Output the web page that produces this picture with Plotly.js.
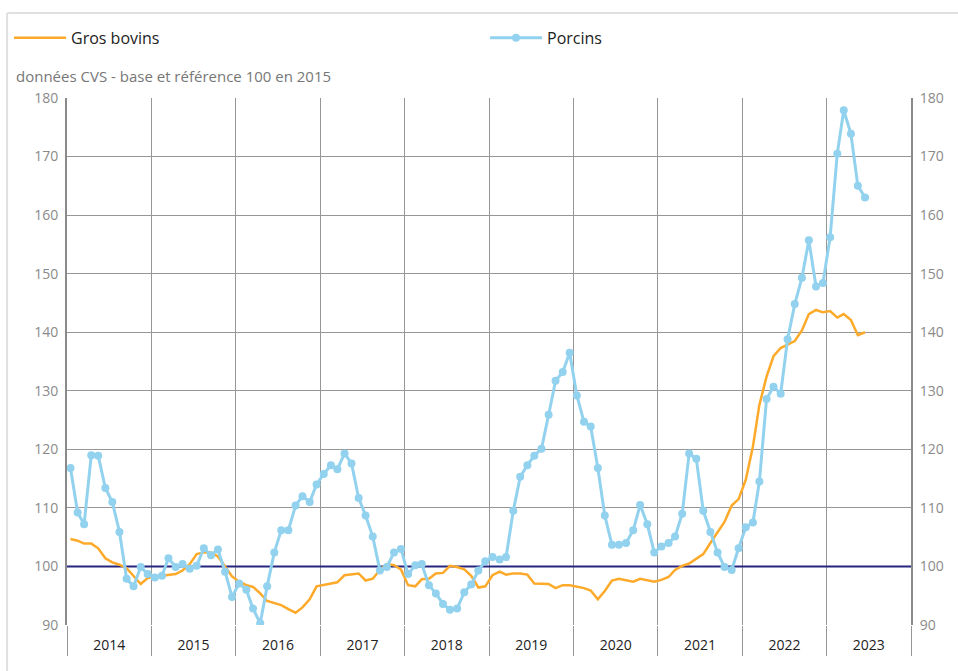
<!DOCTYPE html>
<html>
<head>
<meta charset="utf-8">
<script src="https://cdn.plot.ly/plotly-3.0.1.min.js"></script>
<style>html,body{margin:0;padding:0;background:#fff;}#chart{width:958px;height:671px;}</style>
</head>
<body>
<div id="chart"></div>
<script>
// Monthly series, January 2014 to June 2023
const startYear = 2014;
const grosBovins = [
  104.7, 104.4, 103.9, 103.9, 103.1, 101.4, 100.7, 100.3, 99.7, 98.3, 97.0, 98.0,
  98.3, 98.4, 98.6, 98.7, 99.3, 100.4, 102.1, 102.4, 102.4, 101.7, 100.0, 98.3,
  97.4, 96.8, 96.5, 95.4, 94.1, 93.8, 93.4, 92.7, 92.1, 93.0, 94.4, 96.6,
  96.8, 97.0, 97.3, 98.5, 98.6, 98.8, 97.6, 97.9, 99.4, 100.4, 100.2, 99.5,
  96.8, 96.6, 97.8, 97.9, 98.8, 98.9, 100.1, 99.9, 99.5, 98.4, 96.4, 96.6,
  98.5, 99.1, 98.6, 98.8, 98.8, 98.6, 97.1, 97.1, 97.0, 96.3, 96.8, 96.8,
  96.6, 96.3, 95.9, 94.4, 95.8, 97.6, 97.9, 97.7, 97.4, 97.9, 97.7, 97.4,
  97.7, 98.2, 99.4, 100.1, 100.5, 101.3, 102.1, 104.0, 105.9, 107.6, 110.4, 111.5,
  114.8, 120.5, 127.6, 132.4, 135.9, 137.3, 137.9, 138.5, 140.3, 143.1, 143.8, 143.4,
  143.6, 142.5, 143.1, 142.1, 139.5, 140.0
];
const porcins = [
  116.8, 109.2, 107.2, 119.0, 118.9, 113.4, 111.0, 105.9, 97.9, 96.6, 99.9, 98.7,
  98.1, 98.4, 101.4, 99.9, 100.4, 99.6, 100.1, 103.1, 101.9, 102.9, 99.1, 94.8,
  97.1, 96.0, 92.8, 90.3, 96.6, 102.4, 106.2, 106.2, 110.4, 112.0, 111.0, 114.0,
  115.8, 117.3, 116.6, 119.3, 117.6, 111.7, 108.7, 105.1, 99.3, 99.9, 102.4, 103.0,
  98.7, 100.2, 100.4, 96.8, 95.4, 93.6, 92.6, 92.8, 95.6, 96.9, 99.3, 100.9,
  101.6, 101.2, 101.6, 109.5, 115.3, 117.3, 118.9, 120.1, 125.9, 131.7, 133.2, 136.5,
  129.2, 124.7, 123.9, 116.8, 108.7, 103.7, 103.7, 104.0, 106.2, 110.5, 107.2, 102.4,
  103.4, 104.0, 105.1, 109.0, 119.3, 118.4, 109.5, 105.9, 102.4, 99.9, 99.4, 103.1,
  106.7, 107.5, 114.5, 128.6, 130.7, 129.5, 138.8, 144.8, 149.3, 155.7, 147.8, 148.4,
  156.2, 170.5, 177.9, 173.9, 165.0, 163.0
];
const seriesNames = ['Gros bovins', 'Porcins'];
const subtitle = 'données CVS - base et référence 100 en 2015';
const yTickValues = [90, 100, 110, 120, 130, 140, 150, 160, 170, 180];
const referenceLevel = 100;

function monthDates(n) {
  const out = [];
  for (let i = 0; i < n; i++) {
    const y = startYear + Math.floor(i / 12);
    const m = (i % 12) + 1;
    out.push(y + '-' + String(m).padStart(2, '0') + '-16');
  }
  return out;
}
const dates = monthDates(porcins.length);

const xRange = ['2014-01-01', '2024-01-01'];
const yRange = [90, 180];
const font = 'Open Sans, Noto Sans, sans-serif';

const traces = [
  {
    x: dates, y: grosBovins, name: seriesNames[0], type: 'scatter', mode: 'lines',
    line: {color: '#FDAA2B', width: 2.5}, xaxis: 'x', yaxis: 'y', legend: 'legend'
  },
  {
    x: dates, y: porcins, name: seriesNames[1], type: 'scatter', mode: 'lines+markers',
    line: {color: '#92D2EE', width: 3}, marker: {color: '#92D2EE', size: 8},
    xaxis: 'x2', yaxis: 'y2', legend: 'legend2'
  }
];

const legendCommon = {
  orientation: 'h', xanchor: 'left', y: 1.114, yanchor: 'middle',
  font: {family: font, size: 16, color: '#222'},
  itemwidth: 52, bgcolor: 'rgba(0,0,0,0)', borderwidth: 0
};

const layout = {
  width: 958, height: 671,
  margin: {l: 67, r: 47, t: 98, b: 46, autoexpand: false},
  paper_bgcolor: '#fff', plot_bgcolor: '#fff',
  font: {family: font, size: 14, color: '#333'},
  showlegend: true,
  legend: Object.assign({}, legendCommon, {x: -0.0687}),
  legend2: Object.assign({}, legendCommon, {x: 0.4953}),
  xaxis: {
    type: 'date', range: xRange, dtick: 'M12', tick0: '2014-01-01',
    ticklabelmode: 'period', tickformat: '%Y', ticks: '',
    showgrid: true, gridcolor: '#969696', gridwidth: 1,
    showline: false, zeroline: false, ticklabelstandoff: 10,
    tickfont: {family: font, size: 14, color: '#222'}
  },
  xaxis2: {
    type: 'date', range: xRange, dtick: 'M12', tick0: '2014-01-01',
    overlaying: 'x', anchor: 'y', side: 'bottom',
    ticks: 'outside', ticklen: 30, tickcolor: '#969696', tickwidth: 1,
    showticklabels: false, showgrid: false, showline: false, zeroline: false
  },
  yaxis: {
    range: yRange, tickvals: yTickValues, ticks: '',
    showgrid: true, gridcolor: '#969696', gridwidth: 1,
    showline: true, linecolor: '#8a8a8a', linewidth: 2, zeroline: false,
    tickfont: {family: font, size: 14, color: '#8a8a8a'}, ticklabelstandoff: 4
  },
  yaxis2: {
    range: yRange, tickvals: yTickValues, ticks: '',
    overlaying: 'y', side: 'right', anchor: 'x',
    showgrid: false, showline: true, linecolor: '#8a8a8a', linewidth: 2, zeroline: false,
    tickfont: {family: font, size: 14, color: '#8a8a8a'}, ticklabelstandoff: 4
  },
  shapes: [
    {type: 'line', xref: 'x', yref: 'y', x0: xRange[0], x1: xRange[1], y0: referenceLevel, y1: referenceLevel,
     line: {color: '#262680', width: 2}, layer: 'between'},
    {type: 'line', xref: 'paper', yref: 'paper', x0: -0.071, x1: 1.06, y0: 1.1613, y1: 1.1613,
     line: {color: '#e0e0e0', width: 2}},
    {type: 'line', xref: 'paper', yref: 'paper', x0: -0.071, x1: -0.071, y0: 1.1613, y1: -0.1,
     line: {color: '#e0e0e0', width: 2}}
  ],
  annotations: [
    {text: subtitle, xref: 'paper', yref: 'paper', x: -0.0628, y: 1.0417,
     xanchor: 'left', yanchor: 'middle', showarrow: false,
     font: {family: font, size: 15, color: '#777'}}
  ]
};

Plotly.newPlot('chart', traces, layout, {displayModeBar: false, staticPlot: true});
</script>
</body>
</html>
